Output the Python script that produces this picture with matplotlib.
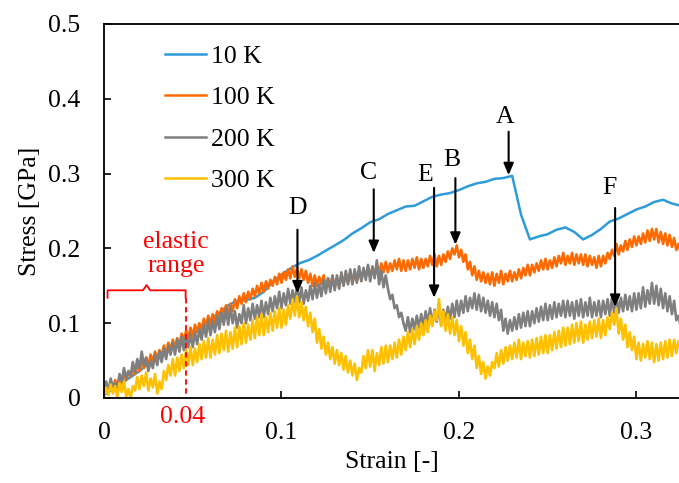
import numpy as np
import matplotlib
matplotlib.use("Agg")
import matplotlib.pyplot as plt

plt.rcParams['font.family'] = ['Liberation Serif', 'DejaVu Serif']

labels = ["10 K", "100 K", "200 K", "300 K"]
colors = ["#2E9BDA", "#FF6A00", "#7F7F7F", "#FFC000"]

# 10 K sampled every 0.005 strain
strain_10k = np.arange(66) * 0.005
stress_10k = [0.004, 0.012, 0.020, 0.028, 0.036, 0.046, 0.054, 0.062, 0.070, 0.079,
              0.088, 0.096, 0.105, 0.114, 0.124, 0.130, 0.131, 0.134, 0.142, 0.155,
              0.165, 0.173, 0.180, 0.184, 0.190, 0.197, 0.204, 0.211, 0.220, 0.227,
              0.235, 0.239, 0.246, 0.251, 0.256, 0.257, 0.263, 0.269, 0.272, 0.274,
              0.278, 0.283, 0.287, 0.289, 0.293, 0.294, 0.297, 0.245, 0.212, 0.216,
              0.219, 0.225, 0.228, 0.222, 0.212, 0.218, 0.226, 0.236, 0.240, 0.246,
              0.252, 0.256, 0.262, 0.265, 0.260, 0.257]

# other temperatures sampled every 0.00125 strain
strain = np.arange(261) * 0.00125
stress_100k = [
    0.004, 0.016, 0.010, 0.020, 0.012, 0.024, 0.016, 0.028,
    0.020, 0.032, 0.024, 0.036, 0.028, 0.040, 0.032, 0.046,
    0.036, 0.050, 0.040, 0.054, 0.044, 0.058, 0.048, 0.062,
    0.052, 0.064, 0.056, 0.070, 0.060, 0.074, 0.064, 0.078,
    0.068, 0.080, 0.072, 0.086, 0.076, 0.090, 0.080, 0.094,
    0.082, 0.098, 0.088, 0.100, 0.090, 0.106, 0.096, 0.110,
    0.098, 0.112, 0.102, 0.116, 0.104, 0.120, 0.110, 0.124,
    0.112, 0.126, 0.116, 0.132, 0.120, 0.136, 0.126, 0.140,
    0.128, 0.142, 0.132, 0.146, 0.136, 0.150, 0.140, 0.154,
    0.142, 0.156, 0.146, 0.158, 0.150, 0.162, 0.152, 0.166,
    0.154, 0.168, 0.158, 0.172, 0.160, 0.176, 0.162, 0.174,
    0.160, 0.172, 0.158, 0.170, 0.154, 0.166, 0.150, 0.164,
    0.150, 0.162, 0.152, 0.164, 0.148, 0.160, 0.150, 0.162,
    0.148, 0.160, 0.150, 0.164, 0.152, 0.166, 0.154, 0.168,
    0.154, 0.166, 0.156, 0.170, 0.158, 0.172, 0.162, 0.176,
    0.162, 0.174, 0.164, 0.178, 0.166, 0.180, 0.168, 0.182,
    0.168, 0.180, 0.170, 0.184, 0.172, 0.186, 0.170, 0.184,
    0.170, 0.184, 0.172, 0.186, 0.174, 0.188, 0.172, 0.186,
    0.174, 0.186, 0.176, 0.190, 0.178, 0.192, 0.176, 0.190,
    0.178, 0.192, 0.182, 0.196, 0.186, 0.200, 0.192, 0.204,
    0.188, 0.198, 0.182, 0.192, 0.172, 0.182, 0.164, 0.176,
    0.158, 0.170, 0.156, 0.168, 0.154, 0.166, 0.152, 0.168,
    0.150, 0.166, 0.154, 0.170, 0.152, 0.166, 0.156, 0.170,
    0.156, 0.168, 0.158, 0.172, 0.160, 0.174, 0.164, 0.178,
    0.164, 0.178, 0.168, 0.180, 0.170, 0.184, 0.172, 0.186,
    0.172, 0.184, 0.174, 0.188, 0.176, 0.190, 0.180, 0.194,
    0.178, 0.190, 0.180, 0.194, 0.178, 0.192, 0.180, 0.192,
    0.178, 0.192, 0.176, 0.190, 0.178, 0.188, 0.174, 0.190,
    0.176, 0.190, 0.180, 0.194, 0.186, 0.198, 0.190, 0.206,
    0.192, 0.204, 0.196, 0.210, 0.198, 0.212, 0.202, 0.216,
    0.204, 0.216, 0.206, 0.220, 0.208, 0.224, 0.210, 0.226,
    0.212, 0.226, 0.208, 0.222, 0.206, 0.220, 0.204, 0.218,
    0.202, 0.214, 0.198, 0.206, 0.194]
stress_200k = [
    0.004, 0.022, 0.008, 0.026, 0.014, 0.020, 0.012, 0.032,
    0.022, 0.040, 0.026, 0.036, 0.030, 0.048, 0.034, 0.052,
    0.040, 0.062, 0.044, 0.054, 0.036, 0.050, 0.040, 0.058,
    0.044, 0.062, 0.048, 0.066, 0.052, 0.070, 0.058, 0.074,
    0.058, 0.078, 0.062, 0.082, 0.064, 0.084, 0.068, 0.086,
    0.068, 0.088, 0.072, 0.092, 0.078, 0.098, 0.082, 0.104,
    0.084, 0.104, 0.088, 0.110, 0.092, 0.114, 0.098, 0.120,
    0.098, 0.122, 0.100, 0.116, 0.094, 0.112, 0.100, 0.124,
    0.100, 0.120, 0.104, 0.126, 0.106, 0.124, 0.108, 0.130,
    0.108, 0.128, 0.112, 0.134, 0.116, 0.136, 0.120, 0.142,
    0.120, 0.140, 0.124, 0.146, 0.126, 0.144, 0.128, 0.150,
    0.128, 0.148, 0.126, 0.144, 0.130, 0.150, 0.132, 0.154,
    0.134, 0.152, 0.136, 0.158, 0.140, 0.160, 0.142, 0.164,
    0.144, 0.164, 0.146, 0.168, 0.150, 0.170, 0.152, 0.172,
    0.152, 0.172, 0.154, 0.176, 0.156, 0.174, 0.158, 0.178,
    0.156, 0.176, 0.160, 0.184, 0.152, 0.170, 0.148, 0.164,
    0.146, 0.132, 0.138, 0.120, 0.124, 0.108, 0.114, 0.100,
    0.090, 0.108, 0.088, 0.106, 0.092, 0.110, 0.094, 0.112,
    0.096, 0.116, 0.100, 0.120, 0.098, 0.118, 0.102, 0.122,
    0.098, 0.118, 0.102, 0.122, 0.106, 0.126, 0.108, 0.130,
    0.110, 0.130, 0.114, 0.136, 0.116, 0.134, 0.120, 0.140,
    0.118, 0.138, 0.116, 0.134, 0.114, 0.130, 0.110, 0.128,
    0.108, 0.126, 0.104, 0.118, 0.090, 0.106, 0.086, 0.104,
    0.090, 0.108, 0.092, 0.112, 0.094, 0.114, 0.096, 0.116,
    0.096, 0.116, 0.100, 0.120, 0.102, 0.122, 0.104, 0.126,
    0.104, 0.124, 0.106, 0.128, 0.108, 0.126, 0.110, 0.130,
    0.108, 0.130, 0.110, 0.128, 0.106, 0.130, 0.110, 0.132,
    0.108, 0.128, 0.110, 0.134, 0.108, 0.128, 0.110, 0.130,
    0.108, 0.130, 0.112, 0.132, 0.110, 0.134, 0.114, 0.136,
    0.114, 0.134, 0.116, 0.138, 0.118, 0.136, 0.116, 0.140,
    0.118, 0.140, 0.120, 0.148, 0.122, 0.144, 0.126, 0.154,
    0.126, 0.150, 0.124, 0.146, 0.120, 0.140, 0.116, 0.136,
    0.112, 0.130, 0.104, 0.110, 0.094]
stress_300k = [
    0.000, 0.014, 0.004, 0.018, 0.006, 0.016, 0.002, 0.020,
    0.008, 0.022, 0.002, 0.012, 0.000, 0.016, 0.010, 0.028,
    0.012, 0.030, 0.016, 0.034, 0.010, 0.026, 0.014, 0.032,
    0.006, 0.022, 0.012, 0.036, 0.024, 0.044, 0.030, 0.052,
    0.030, 0.054, 0.036, 0.058, 0.040, 0.064, 0.044, 0.068,
    0.044, 0.066, 0.048, 0.072, 0.052, 0.076, 0.054, 0.080,
    0.054, 0.078, 0.058, 0.084, 0.060, 0.086, 0.064, 0.090,
    0.062, 0.088, 0.066, 0.094, 0.068, 0.096, 0.072, 0.100,
    0.074, 0.098, 0.078, 0.104, 0.080, 0.108, 0.084, 0.112,
    0.084, 0.108, 0.088, 0.114, 0.090, 0.116, 0.094, 0.120,
    0.094, 0.118, 0.098, 0.124, 0.106, 0.132, 0.110, 0.136,
    0.108, 0.128, 0.104, 0.122, 0.096, 0.114, 0.088, 0.106,
    0.074, 0.092, 0.066, 0.082, 0.058, 0.074, 0.052, 0.068,
    0.046, 0.064, 0.044, 0.060, 0.038, 0.056, 0.034, 0.050,
    0.030, 0.046, 0.024, 0.040, 0.034, 0.056, 0.040, 0.064,
    0.042, 0.064, 0.036, 0.060, 0.044, 0.068, 0.046, 0.070,
    0.048, 0.070, 0.052, 0.074, 0.054, 0.078, 0.058, 0.082,
    0.064, 0.088, 0.068, 0.092, 0.072, 0.096, 0.078, 0.100,
    0.084, 0.104, 0.088, 0.110, 0.096, 0.116, 0.104, 0.132,
    0.096, 0.116, 0.090, 0.112, 0.086, 0.108, 0.084, 0.104,
    0.076, 0.096, 0.070, 0.088, 0.060, 0.078, 0.052, 0.070,
    0.040, 0.056, 0.032, 0.048, 0.026, 0.042, 0.030, 0.048,
    0.040, 0.060, 0.042, 0.064, 0.046, 0.068, 0.050, 0.070,
    0.052, 0.074, 0.054, 0.078, 0.052, 0.074, 0.056, 0.076,
    0.054, 0.078, 0.056, 0.080, 0.058, 0.082, 0.060, 0.084,
    0.060, 0.084, 0.064, 0.088, 0.066, 0.090, 0.068, 0.094,
    0.070, 0.094, 0.072, 0.098, 0.074, 0.100, 0.076, 0.102,
    0.074, 0.098, 0.078, 0.102, 0.080, 0.104, 0.082, 0.106,
    0.080, 0.104, 0.084, 0.108, 0.092, 0.114, 0.098, 0.120,
    0.086, 0.106, 0.078, 0.098, 0.068, 0.088, 0.064, 0.082,
    0.052, 0.074, 0.050, 0.072, 0.054, 0.076, 0.052, 0.074,
    0.048, 0.072, 0.050, 0.074, 0.052, 0.076, 0.054, 0.078,
    0.056, 0.078, 0.060, 0.076, 0.068]

xticks = [0, 0.1, 0.2, 0.3]
xticklabels = ["0", "0.1", "0.2", "0.3"]
yticks = [0, 0.1, 0.2, 0.3, 0.4, 0.5]
yticklabels = ["0", "0.1", "0.2", "0.3", "0.4", "0.5"]

# arrow marks: letter, x, tail y, tip y, text x, text y
marks = [("A", 0.228, 0.356, 0.298, 0.226, 0.376),
         ("B", 0.198, 0.294, 0.205, 0.196, 0.318),
         ("C", 0.152, 0.279, 0.194, 0.149, 0.301),
         ("D", 0.109, 0.225, 0.140, 0.109, 0.254),
         ("E", 0.186, 0.281, 0.134, 0.181, 0.298),
         ("F", 0.288, 0.254, 0.122, 0.285, 0.281)]

fs = 18.5
fig = plt.figure(figsize=(6.79, 4.83), dpi=100)
ax = fig.add_axes([104 / 679, 85 / 483, 575 / 679, 374 / 483])

ax.plot(strain_10k, stress_10k, color=colors[0], lw=1.8, label=labels[0])
ax.plot(strain, stress_100k, color=colors[1], lw=1.9, label=labels[1])
ax.plot(strain, stress_200k, color=colors[2], lw=1.9, label=labels[2])
ax.plot(strain, stress_300k, color=colors[3], lw=1.9, label=labels[3])

ax.set_xlim(0, 0.324)
ax.set_ylim(0, 0.5)
ax.set_xticks(xticks)
ax.set_xticklabels(xticklabels)
ax.set_yticks(yticks)
ax.set_yticklabels(yticklabels)
ax.tick_params(direction='in', length=5, width=1.2, labelsize=fs, pad=17)
for s in ['left', 'bottom', 'top']:
    ax.spines[s].set_linewidth(1.3)
ax.spines['right'].set_visible(False)
ax.set_xlabel("Strain [-]", fontsize=fs, labelpad=5)
ax.set_ylabel("Stress [GPa]", fontsize=fs, labelpad=5)

leg = ax.legend(loc='upper left', bbox_to_anchor=(0.106, 0.945), frameon=False,
                handlelength=1.6, handletextpad=0.2, labelspacing=0.72,
                borderpad=0, borderaxespad=0, fontsize=fs)
for h in leg.get_lines():
    h.set_linewidth(1.8)

for name, x, y0, y1, tx, ty in marks:
    ax.annotate('', xy=(x, y1), xytext=(x, y0),
                arrowprops=dict(arrowstyle='-|>,head_length=0.7,head_width=0.3',
                                color='black', lw=1.5, shrinkA=0, shrinkB=0))
    ax.text(tx, ty, name, fontsize=fs, ha='center', va='center')

# elastic range bracket
red = '#FF0000'
ax.plot([0.002, 0.002, 0.022, 0.024, 0.026, 0.046, 0.046],
        [0.134, 0.144, 0.144, 0.151, 0.144, 0.144, 0.134], color=red, lw=1.3)
ax.plot([0.046, 0.046], [0.134, 0], color=red, lw=1.3, ls=(0, (3, 2)))
ax.text(0.0405, 0.209, "elastic", color=red, fontsize=fs, ha='center', va='center')
ax.text(0.0405, 0.176, "range", color=red, fontsize=fs, ha='center', va='center')
ax.text(0.044, -0.025, "0.04", color=red, fontsize=fs, ha='center', va='center',
        clip_on=False)

fig.savefig("out.png", dpi=100)
